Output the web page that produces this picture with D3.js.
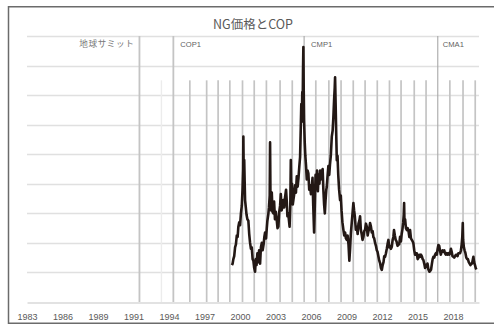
<!DOCTYPE html>
<html>
<head>
<meta charset="utf-8">
<script src="https://cdn.jsdelivr.net/npm/d3@7"></script>
<style>
  body { margin: 0; background: #fff; }
  svg { display: block; }
</style>
</head>
<body>
<svg id="chart" width="494" height="326"></svg>
<script>
// Natural gas price: [decimal year, price]
const ngPrice = [
  [2000.00,2.5],[2000.06,2.6],[2000.12,2.9],[2000.19,3.1],[2000.26,3.7],[2000.33,3.9],
  [2000.40,4.5],[2000.47,4.4],[2000.53,5.1],[2000.60,5.4],[2000.67,5.2],[2000.74,6.0],
  [2000.81,6.5],[2000.87,7.6],[2000.92,9.0],[2000.94,11.2],[2000.97,8.6],[2001.01,9.6],
  [2001.05,8.0],[2001.08,6.9],[2001.14,6.4],[2001.20,5.9],[2001.27,5.6],[2001.35,5.5],
  [2001.42,4.6],[2001.49,4.0],[2001.56,3.6],[2001.63,3.7],[2001.70,2.9],[2001.76,2.8],
  [2001.83,2.3],[2001.90,2.05],[2001.96,2.9],[2002.02,2.5],[2002.09,3.3],[2002.16,2.7],
  [2002.23,3.5],[2002.31,2.6],[2002.38,3.7],[2002.45,4.0],[2002.52,3.5],[2002.60,3.9],
  [2002.66,4.4],[2002.72,4.7],[2002.80,4.3],[2002.86,5.0],[2002.91,5.5],[2002.98,5.9],
  [2003.04,6.4],[2003.10,7.2],[2003.13,10.8],[2003.16,7.4],[2003.22,6.2],[2003.27,7.4],
  [2003.33,6.1],[2003.40,6.0],[2003.46,6.8],[2003.53,5.6],[2003.60,6.1],[2003.68,5.5],
  [2003.74,5.0],[2003.81,5.1],[2003.88,6.1],[2003.95,6.5],[2004.01,7.3],[2004.08,6.2],
  [2004.15,6.5],[2004.22,6.9],[2004.29,6.4],[2004.36,7.1],[2004.44,7.6],[2004.50,6.8],
  [2004.55,5.8],[2004.62,6.0],[2004.68,5.5],[2004.73,5.1],[2004.79,6.6],[2004.83,9.6],
  [2004.87,7.4],[2004.93,8.0],[2004.99,6.6],[2005.04,6.9],[2005.11,7.3],[2005.18,7.9],
  [2005.25,7.4],[2005.32,8.5],[2005.39,7.8],[2005.46,8.4],[2005.53,9.2],[2005.59,9.8],
  [2005.65,11.9],[2005.69,13.4],[2005.73,12.2],[2005.77,14.2],[2005.80,12.8],[2005.83,15.6],
  [2005.86,17.25],[2005.89,14.3],[2005.92,12.3],[2005.97,10.8],[2006.02,9.9],[2006.08,9.2],
  [2006.14,8.3],[2006.20,8.9],[2006.27,8.7],[2006.34,7.6],[2006.41,7.9],[2006.48,7.3],
  [2006.55,7.8],[2006.61,8.4],[2006.67,6.5],[2006.74,4.7],[2006.79,6.3],[2006.86,8.6],
  [2006.93,8.0],[2006.98,8.9],[2007.05,7.5],[2007.11,8.6],[2007.18,8.0],[2007.23,8.9],
  [2007.30,8.3],[2007.37,8.8],[2007.44,9.0],[2007.50,7.6],[2007.56,6.6],[2007.62,6.0],
  [2007.68,6.9],[2007.74,7.6],[2007.78,7.8],[2007.84,8.5],[2007.91,9.2],[2007.98,8.6],
  [2008.04,9.3],[2008.11,9.9],[2008.19,11.2],[2008.26,11.6],[2008.32,12.5],[2008.38,13.7],
  [2008.43,14.5],[2008.46,15.2],[2008.50,13.6],[2008.55,11.5],[2008.60,9.6],[2008.66,9.9],
  [2008.72,8.6],[2008.79,7.6],[2008.87,6.9],[2008.93,7.2],[2008.99,6.2],[2009.06,5.4],
  [2009.14,4.9],[2009.21,4.5],[2009.28,4.7],[2009.35,4.3],[2009.42,4.2],[2009.49,4.5],
  [2009.56,3.9],[2009.63,2.8],[2009.69,3.6],[2009.75,4.6],[2009.82,5.3],[2009.89,6.0],
  [2009.96,6.7],[2010.02,6.2],[2010.08,5.8],[2010.16,4.9],[2010.24,5.1],[2010.31,4.6],
  [2010.38,5.3],[2010.45,5.5],[2010.51,5.8],[2010.57,4.9],[2010.64,4.6],[2010.71,4.2],
  [2010.78,4.4],[2010.85,4.8],[2010.92,4.9],[2010.99,5.3],[2011.06,5.1],[2011.13,4.5],
  [2011.20,4.8],[2011.27,5.0],[2011.33,5.35],[2011.40,5.1],[2011.47,4.7],[2011.54,4.8],
  [2011.60,4.4],[2011.67,4.3],[2011.74,4.0],[2011.81,3.8],[2011.88,3.5],[2011.94,3.4],
  [2012.01,3.1],[2012.08,2.8],[2012.15,2.64],[2012.22,2.3],[2012.29,2.17],[2012.36,2.5],
  [2012.43,2.7],[2012.49,3.1],[2012.56,3.06],[2012.63,3.3],[2012.70,3.6],[2012.76,3.9],
  [2012.83,4.2],[2012.90,3.7],[2012.97,3.8],[2013.04,3.6],[2013.11,3.74],[2013.18,4.2],
  [2013.24,4.4],[2013.29,4.87],[2013.36,4.5],[2013.43,4.2],[2013.50,4.1],[2013.58,3.8],
  [2013.65,3.9],[2013.72,3.9],[2013.79,4.42],[2013.86,4.1],[2013.92,4.6],[2013.98,4.9],
  [2014.04,5.35],[2014.09,5.9],[2014.12,6.7],[2014.15,5.4],[2014.20,5.6],[2014.27,5.0],
  [2014.34,4.87],[2014.41,5.0],[2014.48,4.8],[2014.55,4.4],[2014.61,4.87],[2014.68,4.3],
  [2014.75,4.2],[2014.82,4.1],[2014.88,3.97],[2014.95,3.5],[2015.02,3.2],[2015.09,3.3],
  [2015.16,3.3],[2015.23,2.9],[2015.30,3.0],[2015.36,3.2],[2015.43,3.06],[2015.50,3.2],
  [2015.57,3.1],[2015.64,2.9],[2015.70,2.84],[2015.77,2.6],[2015.84,2.3],[2015.90,2.5],
  [2015.97,2.39],[2016.04,2.6],[2016.11,2.2],[2016.19,2.05],[2016.26,2.1],[2016.33,2.2],
  [2016.40,2.6],[2016.46,2.9],[2016.52,3.06],[2016.59,3.0],[2016.66,3.2],[2016.73,3.3],
  [2016.80,3.2],[2016.87,3.6],[2016.93,3.86],[2017.00,3.8],[2017.06,3.5],[2017.13,3.2],
  [2017.20,3.4],[2017.27,3.5],[2017.34,3.4],[2017.41,3.5],[2017.47,3.3],[2017.54,3.2],
  [2017.61,3.3],[2017.68,3.2],[2017.75,3.3],[2017.82,3.2],[2017.89,3.3],[2017.96,3.6],
  [2018.02,3.4],[2018.09,3.1],[2018.16,3.06],[2018.23,3.0],[2018.30,3.1],[2018.37,3.2],
  [2018.44,3.2],[2018.50,3.1],[2018.57,3.3],[2018.64,3.3],[2018.71,3.3],[2018.78,3.5],
  [2018.84,3.9],[2018.89,4.4],[2018.93,5.35],[2018.96,4.2],[2019.02,3.7],[2019.08,3.5],
  [2019.15,3.3],[2019.22,3.0],[2019.29,2.9],[2019.35,2.9],[2019.42,2.7],[2019.49,2.6],
  [2019.56,2.5],[2019.63,2.6],[2019.69,2.6],[2019.76,2.9],[2019.80,3.06],[2019.86,2.7],
  [2019.93,2.5],[2019.99,2.3],[2020.04,2.2]
];

// Milestones drawn as full-height lines with a caption
const milestoneNames = ["地球サミット", "COP1", "CMP1", "CMA1"];
const milestoneYears = [1992.42, 1995.2, 2005.92, 2016.88];
const milestoneHeight = 18;

// Other conference dates drawn as shorter lines
const treatyInForceYear = 1994.22;
const copYears = [1996.55, 1997.93, 1998.87, 1999.83, 2000.87, 2001.83, 2002.83, 2003.95,
                  2004.95, 2006.88, 2007.95, 2008.95, 2009.95, 2010.92, 2011.92, 2012.92,
                  2013.87, 2014.95, 2015.92, 2017.87, 2018.95, 2019.95];
const copHeight = 15;

// Horizontal axis
const xDomain = [1983.2, 2020.26];
const xTickValues = [1983.2, 1986.11, 1989.02, 1991.93, 1994.84, 1997.75, 2000.66,
                     2003.57, 2006.48, 2009.39, 2012.3, 2015.21, 2018.12];
const xTickLabels = ["1983", "1986", "1989", "1991", "1994", "1997", "2000",
                     "2003", "2006", "2009", "2012", "2015", "2018"];
const yDomain = [0, 18];
const yGridValues = [2, 4, 6, 8, 10, 12, 14, 16, 18];

const chartTitle = "NG価格とCOP";

const svg = d3.select("#chart");
const W = 494, H = 326;
const plot = { left: 27, right: 479, top: 36, bottom: 302 };

const x = d3.scaleLinear().domain(xDomain).range([plot.left, plot.right]);
const y = d3.scaleLinear().domain(yDomain).range([plot.bottom, plot.top]);

// chart frame
svg.append("rect")
  .attr("x", 8.5).attr("y", 6.75)
  .attr("width", W + 10).attr("height", 316.5)
  .attr("fill", "#fff")
  .attr("stroke", "#6b6b6b")
  .attr("stroke-width", 1.5);

// title
svg.append("text")
  .attr("x", (plot.left + plot.right) / 2)
  .attr("y", 28.5)
  .attr("text-anchor", "middle")
  .attr("font-family", "'Noto Sans CJK JP', 'Noto Sans', sans-serif")
  .attr("font-size", 12.5)
  .attr("fill", "#595959")
  .text(chartTitle);

// horizontal gridlines
svg.append("g")
  .selectAll("line")
  .data(yGridValues)
  .join("line")
  .attr("x1", plot.left).attr("x2", plot.right)
  .attr("y1", d => Math.round(y(d)) + 0.5).attr("y2", d => Math.round(y(d)) + 0.5)
  .attr("stroke", "#e0e0e0")
  .attr("stroke-width", 1.3);

// x axis
const xAxis = d3.axisBottom(x)
  .tickValues(xTickValues)
  .tickFormat((d, i) => xTickLabels[i])
  .tickSize(0)
  .tickPadding(11);

const gx = svg.append("g")
  .attr("transform", `translate(0,${Math.round(y(0)) + 0.5})`)
  .call(xAxis);
gx.select(".domain").attr("stroke", "#d9d9d9").attr("stroke-width", 1.3);
gx.selectAll("text")
  .attr("font-family", "'Liberation Sans', Arial, sans-serif")
  .attr("font-size", 9)
  .attr("fill", "#595959");

// conference lines
svg.append("line")
  .attr("x1", x(treatyInForceYear)).attr("x2", x(treatyInForceYear))
  .attr("y1", y(copHeight)).attr("y2", y(0))
  .attr("stroke", "#ececec")
  .attr("stroke-width", 1.4);

svg.append("g")
  .selectAll("line")
  .data(copYears)
  .join("line")
  .attr("x1", d => x(d)).attr("x2", d => x(d))
  .attr("y1", y(copHeight)).attr("y2", y(0))
  .attr("stroke", "#c4c4c4")
  .attr("stroke-width", 1.7);

const milestones = milestoneNames.map((name, i) => ({ name, year: milestoneYears[i], i }));

svg.append("g")
  .selectAll("line")
  .data(milestones)
  .join("line")
  .attr("x1", d => x(d.year)).attr("x2", d => x(d.year))
  .attr("y1", y(milestoneHeight)).attr("y2", y(0))
  .attr("stroke", d => d.i < 2 ? "#c4c4c4" : "#a8a8a8")
  .attr("stroke-width", d => d.i < 2 ? 1.8 : 1.1);

svg.append("g")
  .selectAll("text")
  .data(milestones)
  .join("text")
  .attr("x", d => d.i === 0 ? x(d.year) - 5 : x(d.year) + (d.i === 3 ? 5 : 7))
  .attr("y", 47)
  .attr("text-anchor", d => d.i === 0 ? "end" : "start")
  .attr("font-family", d => d.i === 0 ? "'Noto Sans CJK JP', sans-serif" : "'Liberation Sans', Arial, sans-serif")
  .attr("font-size", d => d.i === 0 ? 8.6 : 7.6)
  .attr("letter-spacing", d => d.i === 0 ? 0.6 : 0)
  .attr("fill", d => d.i === 0 ? "#7a7a7a" : "#5f5f5f")
  .text(d => d.name);

// price line
const line = d3.line()
  .x(d => x(d[0]))
  .y(d => y(d[1]));

svg.append("path")
  .datum(ngPrice)
  .attr("d", line)
  .attr("fill", "none")
  .attr("stroke", "#231815")
  .attr("stroke-width", 2.6)
  .attr("stroke-linejoin", "round");
</script>
</body>
</html>
